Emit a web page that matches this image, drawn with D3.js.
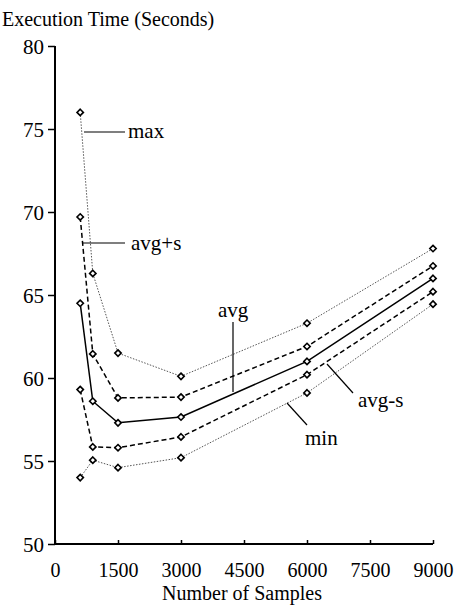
<!DOCTYPE html>
<html>
<head>
<meta charset="utf-8">
<script src="https://cdn.jsdelivr.net/npm/d3@7"></script>
<style>
  body { margin: 0; background: #fff; }
  text { font-family: "Liberation Serif", "Times New Roman", serif; fill: #000; }
</style>
</head>
<body>
<svg id="chart" width="456" height="605"></svg>
<script>
// sample sizes on the x axis
const samples = [600, 900, 1500, 3000, 6000, 9000];

// execution times per series (seconds)
const maxTimes = [76.0, 66.3, 61.5, 60.1, 63.3, 67.8];
const avgPlusS = [69.7, 61.45, 58.8, 58.85, 61.9, 66.75];
const avgTimes = [64.5, 58.6, 57.3, 57.65, 61.0, 66.0];
const avgMinusS = [59.3, 55.85, 55.8, 56.45, 60.2, 65.2];
const minTimes = [54.0, 55.05, 54.6, 55.2, 59.1, 64.45];

const xTicks = [0, 1500, 3000, 4500, 6000, 7500, 9000];
const yTicks = [50, 55, 60, 65, 70, 75, 80];

const series = [
  { name: "max", values: maxTimes, dash: "1.5,1.5", width: 1, color: "#555" },
  { name: "avg+s", values: avgPlusS, dash: "5,3", width: 1.5, color: "#000" },
  { name: "avg", values: avgTimes, dash: null, width: 1.5, color: "#000" },
  { name: "avg-s", values: avgMinusS, dash: "5,3", width: 1.5, color: "#000" },
  { name: "min", values: minTimes, dash: "1.5,1.5", width: 1, color: "#555" }
];

const svg = d3.select("#chart");

const x = d3.scaleLinear().domain([0, 9000]).range([55, 433]);
const y = d3.scaleLinear().domain([50, 80]).range([544, 46]);

// axes
const yAxis = svg.append("g")
  .attr("transform", "translate(55,0)")
  .call(d3.axisLeft(y).tickValues(yTicks).tickSize(7).tickPadding(4));
yAxis.select(".domain").attr("stroke-width", 2).attr("d", "M0,46V544");
yAxis.selectAll(".tick line").attr("stroke-width", 1.5);
yAxis.selectAll("text").style("font-size", "21px").attr("dy", "0.34em");

const xAxis = svg.append("g")
  .attr("transform", "translate(0,544)")
  .call(d3.axisBottom(x).tickValues(xTicks).tickFormat(d3.format("d")).tickSize(-4));
xAxis.select(".domain").attr("stroke-width", 2).attr("d", "M55,0H433");
xAxis.selectAll(".tick line").attr("stroke-width", 1.5);
xAxis.selectAll("text").style("font-size", "20px").attr("y", 33).attr("dy", 0);

// titles
svg.append("text")
  .attr("x", 2).attr("y", 26)
  .style("font-size", "20px")
  .text("Execution Time (Seconds)");

svg.append("text")
  .attr("x", 242).attr("y", 600)
  .attr("text-anchor", "middle")
  .style("font-size", "20px")
  .text("Number of Samples");

// lines
const line = d3.line()
  .x((d, i) => x(samples[i]))
  .y(d => y(d));

svg.selectAll(".series")
  .data(series)
  .enter().append("path")
  .attr("class", "series")
  .attr("fill", "none")
  .attr("stroke", d => d.color)
  .attr("stroke-width", d => d.width)
  .attr("stroke-dasharray", d => d.dash)
  .attr("d", d => line(d.values));

// diamond markers
const diamond = d3.symbol().type(d3.symbolDiamond2).size(26);
series.forEach(s => {
  svg.selectAll(null)
    .data(s.values)
    .enter().append("path")
    .attr("transform", (d, i) => `translate(${x(samples[i])},${y(d)})`)
    .attr("d", diamond)
    .attr("fill", "#fff")
    .attr("stroke", "#000")
    .attr("stroke-width", 1.6);
});

// labels with leader lines
const labels = [
  { text: "max", lx1: 84, ly1: 132, lx2: 125, ly2: 132, tx: 128, ty: 138 },
  { text: "avg+s", lx1: 82, ly1: 243, lx2: 125, ly2: 243, tx: 131, ty: 250 },
  { text: "avg", lx1: 233, ly1: 322, lx2: 233, ly2: 392, tx: 218, ty: 317 },
  { text: "avg-s", lx1: 327, ly1: 364, lx2: 353, ly2: 393, tx: 358, ty: 407 },
  { text: "min", lx1: 287, ly1: 403, lx2: 307, ly2: 425, tx: 305, ty: 445 }
];

svg.selectAll(".leader")
  .data(labels)
  .enter().append("line")
  .attr("class", "leader")
  .attr("x1", d => d.lx1).attr("y1", d => d.ly1)
  .attr("x2", d => d.lx2).attr("y2", d => d.ly2)
  .attr("stroke", "#000")
  .attr("stroke-width", 1.2);

svg.selectAll(".lbl")
  .data(labels)
  .enter().append("text")
  .attr("class", "lbl")
  .attr("x", d => d.tx).attr("y", d => d.ty)
  .style("font-size", "21px")
  .text(d => d.text);
</script>
</body>
</html>
